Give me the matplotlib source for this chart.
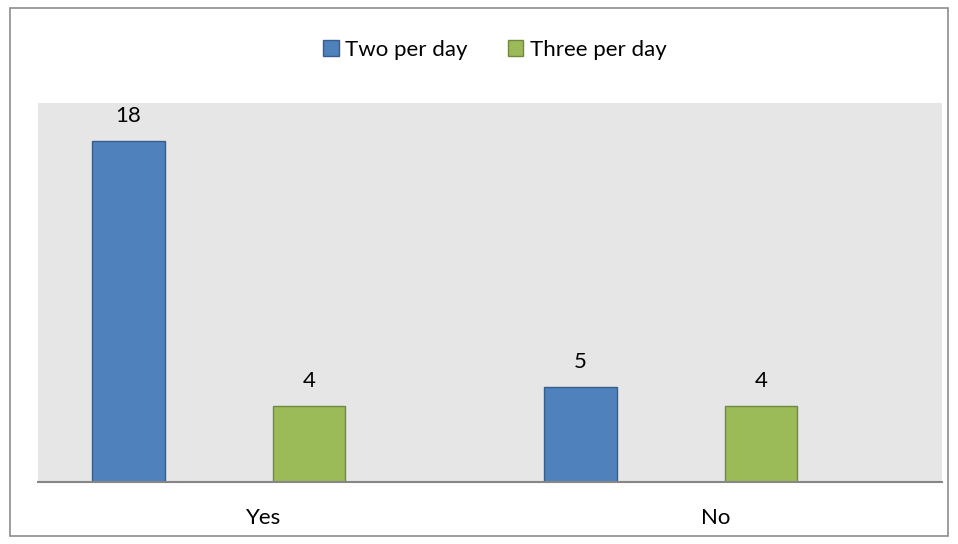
import numpy as np
import matplotlib
matplotlib.use("Agg")
import matplotlib.pyplot as plt
from matplotlib.patches import Rectangle

plt.rcParams['font.family'] = ['Lato', 'DejaVu Sans']

categories = ["Yes", "No"]
series_names = ["Two per day", "Three per day"]
two_per_day = [18, 5]
three_per_day = [4, 4]

fig = plt.figure(figsize=(9.58, 5.44), dpi=100)
fig.patches.append(Rectangle((10 / 958, 8 / 544), 938 / 958, 528 / 544,
                             transform=fig.transFigure, fill=False,
                             edgecolor="#8c8c8c", linewidth=1.2))

ax = fig.add_axes([38 / 958, 1 - 482 / 544, 904 / 958, 379 / 544])
ax.set_facecolor("#e6e6e6")

x = np.arange(len(categories))
w = 0.16
# Excel-style placement: series sit left of category centre
b1 = ax.bar(x - 0.3, two_per_day, w, color="#4f81bd", edgecolor="#385d8a",
            linewidth=1, label=series_names[0])
b2 = ax.bar(x + 0.1, three_per_day, w, color="#9bbb59", edgecolor="#71893f",
            linewidth=1, label=series_names[1])

for bars in (b1, b2):
    for r in bars:
        ax.annotate(str(int(r.get_height())), (r.get_x() + r.get_width() / 2, r.get_height()),
                    xytext=(0, 11), textcoords="offset points", ha="center", va="bottom",
                    fontsize=16)

ax.set_xlim(-0.5, 1.5)
ax.set_ylim(0, 20)
ax.set_yticks([])
ax.set_xticks(x)
ax.set_xticklabels(categories, fontsize=16)
ax.tick_params(axis="x", length=0, pad=19)
for s in ("top", "right", "left"):
    ax.spines[s].set_visible(False)
ax.spines["bottom"].set_color("#868686")
ax.spines["bottom"].set_linewidth(1.5)

fig.legend(loc="center", bbox_to_anchor=(495 / 958, 1 - 50 / 544), ncol=2,
           frameon=False, fontsize=16, handlelength=0.7, handleheight=0.7,
           handletextpad=0.3, columnspacing=1.8)

fig.savefig("out.png", dpi=100)
